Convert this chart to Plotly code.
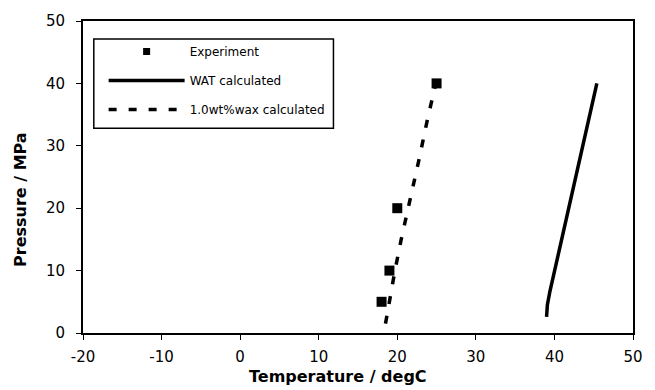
import plotly.graph_objects as go

# Data
exp_T = [18, 19, 20, 25]
exp_P = [5, 10, 20, 40]

wat_T = [39.0, 39.1, 39.4, 45.4]
wat_P = [2.6, 4.5, 6.5, 40]

wax_T = [18.5, 19.1, 19.7, 20.5, 21.6, 22.8, 23.8, 24.9]
wax_P = [1.5, 6, 10, 15, 21, 28, 34, 40]

x_ticks = [-20, -10, 0, 10, 20, 30, 40, 50]
x_labels = ["-20", "-10", "0", "10", "20", "30", "40", "50"]
y_ticks = [0, 10, 20, 30, 40, 50]
y_labels = ["0", "10", "20", "30", "40", "50"]

W, H = 655, 390
L, R, T, B = 83, 12, 19, 57
pw, ph = W - L - R, H - T - B

def px_x(x):
    return (x - L) / pw

def px_y(y):
    return (H - B - y) / ph

fig = go.Figure()

fig.add_trace(go.Scatter(
    x=wat_T, y=wat_P, mode="lines", name="WAT calculated",
    line=dict(color="black", width=3.5),
    legendgroup="b", legendrank=2,
))
fig.add_trace(go.Scatter(
    x=wax_T, y=wax_P, mode="lines", name="1.0wt%wax calculated",
    line=dict(color="black", width=3.5, dash="8px,12px"),
    legendgroup="c", legendrank=3,
))
fig.add_trace(go.Scatter(
    x=exp_T, y=exp_P, mode="markers", name="Experiment",
    marker=dict(symbol="square", size=10, color="black"),
    legendgroup="a", showlegend=False,
))
# legend entry for the experiment points (smaller symbol, as in the reference)
fig.add_trace(go.Scatter(
    x=[None], y=[None], mode="markers", name="Experiment",
    marker=dict(symbol="square", size=7, color="black"),
    legendgroup="a", legendrank=1,
))

axis_common = dict(
    showline=True, linecolor="black", linewidth=2, mirror=True,
    ticks="outside", ticklen=5, tickwidth=1, tickcolor="black",
    showgrid=False, zeroline=False,
    tickfont=dict(family="DejaVu Sans", size=15, color="black"),
)

fig.update_xaxes(range=[-20, 50], tickvals=x_ticks, ticktext=x_labels,
                 ticklabelstandoff=4, **axis_common)
fig.update_yaxes(range=[0, 50], tickvals=y_ticks, ticktext=y_labels,
                 ticklabelstandoff=8, **axis_common)

fig.update_layout(
    width=W, height=H,
    margin=dict(l=L, r=R, t=T, b=B, pad=0),
    paper_bgcolor="white", plot_bgcolor="white",
    showlegend=True,
    legend=dict(
        x=px_x(104), y=px_y(35), xanchor="left", yanchor="top",
        bgcolor="rgba(0,0,0,0)", borderwidth=0,
        font=dict(family="DejaVu Sans", size=12, color="black"),
        itemwidth=76, traceorder="grouped", tracegroupgap=10,
    ),
    shapes=[dict(
        type="rect", xref="paper", yref="paper",
        x0=px_x(94), x1=px_x(338), y0=px_y(127), y1=px_y(37),
        line=dict(color="black", width=1.5), fillcolor="rgba(0,0,0,0)",
    )],
    annotations=[
        dict(text="Temperature / degC", xref="paper", yref="paper",
             x=px_x(343), y=px_y(377), xanchor="center", yanchor="middle",
             showarrow=False,
             font=dict(family="DejaVu Sans", size=16, color="black", weight="bold")),
        dict(text="Pressure / MPa", xref="paper", yref="paper",
             x=px_x(20), y=px_y(199), xanchor="center", yanchor="middle",
             textangle=-90, showarrow=False,
             font=dict(family="DejaVu Sans", size=16, color="black", weight="bold")),
    ],
)

fig.write_html("out.html")
